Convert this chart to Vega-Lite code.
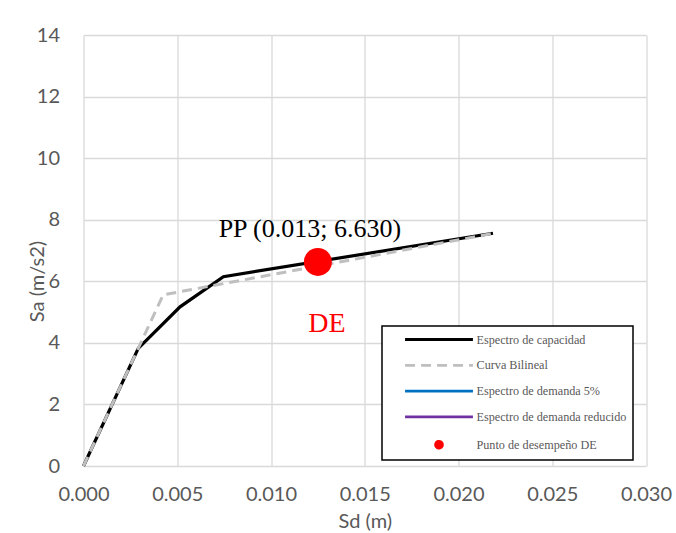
{
  "$schema": "https://vega.github.io/schema/vega-lite/v6.json",
  "autosize": "none",
  "width": 562.5,
  "height": 431,
  "padding": {"left": 83.5, "top": 35, "right": 30, "bottom": 67},
  "background": "white",
  "config": {
    "view": {"stroke": null},
    "axis": {
      "labelFont": "Lato",
      "labelFontSize": 20,
      "labelColor": "#595959",
      "titleFont": "Lato",
      "titleFontSize": 20,
      "titleFontWeight": "normal",
      "titleColor": "#595959",
      "gridColor": "#D9D9D9",
      "gridWidth": 1.3,
      "domain": false,
      "ticks": false,
      "labelFlush": false,
      "labelOverlap": false
    }
  },
  "datasets": {
    "curves": [
      {"series": "Espectro de capacidad", "sd": 0.0, "sa": 0.0},
      {"series": "Espectro de capacidad", "sd": 0.00292, "sa": 3.82},
      {"series": "Espectro de capacidad", "sd": 0.00515, "sa": 5.17},
      {"series": "Espectro de capacidad", "sd": 0.00746, "sa": 6.15},
      {"series": "Espectro de capacidad", "sd": 0.02184, "sa": 7.56},
      {"series": "Curva Bilineal", "sd": 0.0, "sa": 0.0},
      {"series": "Curva Bilineal", "sd": 0.00425, "sa": 5.56},
      {"series": "Curva Bilineal", "sd": 0.0218, "sa": 7.55}
    ],
    "pp": [
      {"series": "Punto de desempeño DE", "sd": 0.0125, "sa": 6.63, "label": "PP (0.013; 6.630)", "tag": "DE"}
    ]
  },
  "encoding": {
    "x": {
      "field": "sd",
      "type": "quantitative",
      "scale": {"domain": [0, 0.03], "nice": false, "zero": false},
      "axis": {
        "title": "Sd (m)",
        "values": [0, 0.005, 0.01, 0.015, 0.02, 0.025, 0.03],
        "format": ".3f",
        "labelPadding": 18,
        "titleY": 55,
        "titleBaseline": "middle"
      }
    },
    "y": {
      "field": "sa",
      "type": "quantitative",
      "scale": {"domain": [0, 14], "nice": false},
      "axis": {
        "title": "Sa (m/s2)",
        "values": [0, 2, 4, 6, 8, 10, 12, 14],
        "labelPadding": 24,
        "titleX": -46.5,
        "titleY": 246,
        "titleAlign": "center",
        "titleBaseline": "middle"
      }
    }
  },
  "layer": [
    {
      "data": {"name": "curves"},
      "transform": [{"filter": "datum.series === 'Espectro de capacidad'"}],
      "mark": {"type": "line", "strokeWidth": 3.2, "strokeJoin": "miter"},
      "encoding": {
        "color": {
          "field": "series",
          "type": "nominal",
          "scale": {
            "domain": ["Espectro de capacidad", "Curva Bilineal", "Espectro de demanda 5%", "Espectro de demanda reducido", "Punto de desempeño DE"],
            "range": ["#000000", "#BFBFBF", "#0070C0", "#7030A0", "#FF0000"]
          },
          "legend": {
            "title": null,
            "orient": "none",
            "legendX": 298.5,
            "legendY": 291,
            "fillColor": "white",
            "strokeColor": "black",
            "padding": 6,
            "rowPadding": 11.8,
            "symbolSize": 128,
            "symbolStrokeWidth": 2.8,
            "symbolOffset": 43.5,
            "labelOffset": 30,
            "labelFont": "Liberation Serif",
            "labelFontSize": 12.2,
            "labelColor": "#595959",
            "labelLimit": 300,
            "encode": {
              "legend": {"update": {"strokeWidth": {"value": 1.5}}},
              "symbols": {
                "update": {
                  "shape": {"signal": "datum.value === 'Punto de desempeño DE' ? 'M0,-0.6A0.6,0.6 0 1,1 0,0.6A0.6,0.6 0 1,1 0,-0.6Z' : 'M-6,0H6'"},
                  "strokeDash": {"signal": "datum.value === 'Curva Bilineal' ? [10, 6] : [1, 0]"},
                  "fill": {"signal": "datum.value === 'Punto de desempeño DE' ? '#FF0000' : 'transparent'"},
                  "stroke": {"signal": "datum.value === 'Punto de desempeño DE' ? 'transparent' : scale('color', datum.value)"},
                  "opacity": {"value": 1}
                }
              }
            }
          }
        }
      }
    },
    {
      "data": {"name": "curves"},
      "transform": [{"filter": "datum.series === 'Curva Bilineal'"}],
      "mark": {"type": "line", "strokeWidth": 3, "strokeDash": [10, 6]},
      "encoding": {
        "color": {"field": "series", "type": "nominal"}
      }
    },
    {
      "data": {"name": "pp"},
      "mark": {"type": "point", "shape": "circle", "filled": true, "opacity": 1, "size": 785, "color": "#FF0000"}
    },
    {
      "data": {"name": "pp"},
      "mark": {"type": "text", "font": "Liberation Serif", "fontSize": 26, "color": "#000000", "align": "center", "baseline": "alphabetic", "dx": -8, "dy": -25},
      "encoding": {"text": {"field": "label"}}
    },
    {
      "data": {"name": "pp"},
      "mark": {"type": "text", "font": "Liberation Serif", "fontSize": 28, "color": "#FF0000", "align": "center", "baseline": "alphabetic", "dx": 9, "dy": 70},
      "encoding": {"text": {"field": "tag"}}
    }
  ]
}
